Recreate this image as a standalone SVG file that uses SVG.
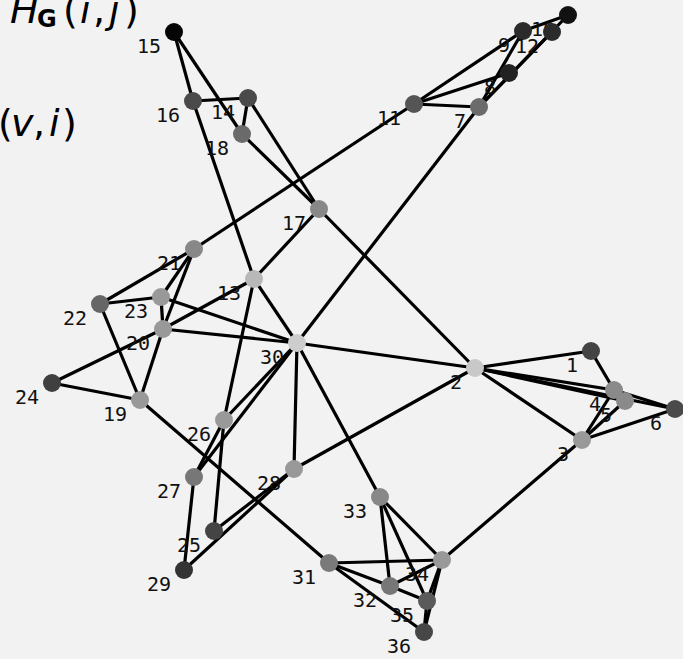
<svg xmlns="http://www.w3.org/2000/svg" width="683" height="659" viewBox="0 0 683 659">
<style>
.bg{fill:#f2f2f2}
.e line{stroke:#000;stroke-width:3.2;stroke-linecap:butt}
.n text{font-family:"DejaVu Sans Mono","Liberation Mono",monospace;font-size:20px;fill:#111;text-anchor:end}
.m{font-family:"DejaVu Sans","Liberation Sans",sans-serif;fill:#000}
.it{font-style:italic}
</style>
<rect class="bg" x="0" y="0" width="683" height="659"/>
<g id="legend" class="m">
<text y="23" font-size="38"><tspan x="10" class="it">H</tspan><tspan x="37" y="27" font-size="24" font-weight="bold">G</tspan><tspan x="63" y="23">(</tspan><tspan x="80" class="it">i</tspan><tspan x="93">,</tspan><tspan x="109" class="it">j</tspan><tspan x="124">)</tspan></text>
<text y="136" font-size="38"><tspan x="-2">(</tspan><tspan x="11" class="it">v</tspan><tspan x="33">,</tspan><tspan x="49" class="it">i</tspan><tspan x="62">)</tspan></text>
</g>
<g id="edges" class="e">
<line x1="174" y1="32" x2="193" y2="101"/>
<line x1="174" y1="32" x2="242" y2="134"/>
<line x1="193" y1="101" x2="248" y2="98"/>
<line x1="193" y1="101" x2="254" y2="279"/>
<line x1="248" y1="98" x2="242" y2="134"/>
<line x1="248" y1="98" x2="319" y2="209"/>
<line x1="242" y1="134" x2="319" y2="209"/>
<line x1="319" y1="209" x2="475" y2="368"/>
<line x1="319" y1="209" x2="254" y2="279"/>
<line x1="254" y1="279" x2="297" y2="343"/>
<line x1="254" y1="279" x2="224" y2="420"/>
<line x1="254" y1="279" x2="163" y2="329"/>
<line x1="163" y1="329" x2="52" y2="383"/>
<line x1="100" y1="304" x2="194" y2="249"/>
<line x1="194" y1="249" x2="414" y2="104"/>
<line x1="194" y1="249" x2="161" y2="297"/>
<line x1="194" y1="249" x2="163" y2="329"/>
<line x1="100" y1="304" x2="161" y2="297"/>
<line x1="100" y1="304" x2="140" y2="400"/>
<line x1="161" y1="297" x2="163" y2="329"/>
<line x1="161" y1="297" x2="297" y2="343"/>
<line x1="163" y1="329" x2="297" y2="343"/>
<line x1="163" y1="329" x2="140" y2="400"/>
<line x1="52" y1="383" x2="140" y2="400"/>
<line x1="140" y1="400" x2="329" y2="563"/>
<line x1="297" y1="343" x2="224" y2="420"/>
<line x1="297" y1="343" x2="194" y2="477"/>
<line x1="224" y1="420" x2="194" y2="477"/>
<line x1="224" y1="420" x2="214" y2="531"/>
<line x1="194" y1="477" x2="184" y2="570"/>
<line x1="214" y1="531" x2="294" y2="469"/>
<line x1="184" y1="570" x2="294" y2="469"/>
<line x1="294" y1="469" x2="297" y2="343"/>
<line x1="294" y1="469" x2="475" y2="368"/>
<line x1="297" y1="343" x2="380" y2="497"/>
<line x1="297" y1="343" x2="475" y2="368"/>
<line x1="297" y1="343" x2="479" y2="107"/>
<line x1="414" y1="104" x2="479" y2="107"/>
<line x1="414" y1="104" x2="523" y2="31"/>
<line x1="414" y1="104" x2="509" y2="73"/>
<line x1="479" y1="107" x2="523" y2="31"/>
<line x1="479" y1="107" x2="552" y2="32"/>
<line x1="479" y1="107" x2="568" y2="15"/>
<line x1="523" y1="31" x2="568" y2="15"/>
<line x1="475" y1="368" x2="591" y2="351"/>
<line x1="591" y1="351" x2="614" y2="390"/>
<line x1="475" y1="368" x2="614" y2="390"/>
<line x1="475" y1="368" x2="625" y2="401"/>
<line x1="475" y1="368" x2="675" y2="409"/>
<line x1="614" y1="390" x2="675" y2="409"/>
<line x1="475" y1="368" x2="582" y2="440"/>
<line x1="582" y1="440" x2="614" y2="390"/>
<line x1="582" y1="440" x2="625" y2="401"/>
<line x1="582" y1="440" x2="675" y2="409"/>
<line x1="582" y1="440" x2="442" y2="560"/>
<line x1="380" y1="497" x2="390" y2="586"/>
<line x1="380" y1="497" x2="427" y2="601"/>
<line x1="380" y1="497" x2="442" y2="560"/>
<line x1="329" y1="563" x2="442" y2="560"/>
<line x1="329" y1="563" x2="390" y2="586"/>
<line x1="329" y1="563" x2="424" y2="632"/>
<line x1="390" y1="586" x2="427" y2="601"/>
<line x1="390" y1="586" x2="442" y2="560"/>
<line x1="442" y1="560" x2="427" y2="601"/>
<line x1="442" y1="560" x2="424" y2="632"/>
<line x1="427" y1="601" x2="424" y2="632"/>
</g>
<g id="node-15" class="n"><text x="161" y="53">15</text><circle cx="174" cy="32" r="9" fill="#050505"/></g>
<g id="node-16" class="n"><text x="180" y="122">16</text><circle cx="193" cy="101" r="9" fill="#4a4a4a"/></g>
<g id="node-14" class="n"><text x="235" y="119">14</text><circle cx="248" cy="98" r="9" fill="#4a4a4a"/></g>
<g id="node-18" class="n"><text x="229" y="155">18</text><circle cx="242" cy="134" r="9" fill="#6a6a6a"/></g>
<g id="node-17" class="n"><text x="306" y="230">17</text><circle cx="319" cy="209" r="9" fill="#888"/></g>
<g id="node-21" class="n"><text x="181" y="270">21</text><circle cx="194" cy="249" r="9" fill="#888"/></g>
<g id="node-13" class="n"><text x="241" y="300">13</text><circle cx="254" cy="279" r="9" fill="#b8b8b8"/></g>
<g id="node-22" class="n"><text x="87" y="325">22</text><circle cx="100" cy="304" r="9" fill="#666"/></g>
<g id="node-23" class="n"><text x="148" y="318">23</text><circle cx="161" cy="297" r="9" fill="#999"/></g>
<g id="node-20" class="n"><text x="150" y="350">20</text><circle cx="163" cy="329" r="9" fill="#999"/></g>
<g id="node-30" class="n"><text x="284" y="364">30</text><circle cx="297" cy="343" r="9" fill="#cdcdcd"/></g>
<g id="node-24" class="n"><text x="39" y="404">24</text><circle cx="52" cy="383" r="9" fill="#404040"/></g>
<g id="node-19" class="n"><text x="127" y="421">19</text><circle cx="140" cy="400" r="9" fill="#999"/></g>
<g id="node-26" class="n"><text x="211" y="441">26</text><circle cx="224" cy="420" r="9" fill="#999"/></g>
<g id="node-27" class="n"><text x="181" y="498">27</text><circle cx="194" cy="477" r="9" fill="#777"/></g>
<g id="node-28" class="n"><text x="281" y="490">28</text><circle cx="294" cy="469" r="9" fill="#999"/></g>
<g id="node-25" class="n"><text x="201" y="552">25</text><circle cx="214" cy="531" r="9" fill="#444"/></g>
<g id="node-29" class="n"><text x="171" y="591">29</text><circle cx="184" cy="570" r="9" fill="#333"/></g>
<g id="node-33" class="n"><text x="367" y="518">33</text><circle cx="380" cy="497" r="9" fill="#888"/></g>
<g id="node-31" class="n"><text x="316" y="584">31</text><circle cx="329" cy="563" r="9" fill="#7a7a7a"/></g>
<g id="node-34" class="n"><text x="429" y="581">34</text><circle cx="442" cy="560" r="9" fill="#999"/></g>
<g id="node-32" class="n"><text x="377" y="607">32</text><circle cx="390" cy="586" r="9" fill="#777"/></g>
<g id="node-35" class="n"><text x="414" y="622">35</text><circle cx="427" cy="601" r="9" fill="#5a5a5a"/></g>
<g id="node-36" class="n"><text x="411" y="653">36</text><circle cx="424" cy="632" r="9" fill="#474747"/></g>
<g id="node-2" class="n"><text x="462" y="389">2</text><circle cx="475" cy="368" r="9" fill="#c8c8c8"/></g>
<g id="node-1" class="n"><text x="578" y="372">1</text><circle cx="591" cy="351" r="9" fill="#444"/></g>
<g id="node-3" class="n"><text x="569" y="461">3</text><circle cx="582" cy="440" r="9" fill="#999"/></g>
<g id="node-6" class="n"><text x="662" y="430">6</text><circle cx="675" cy="409" r="9" fill="#4a4a4a"/></g>
<g id="node-4" class="n"><text x="601" y="411">4</text><circle cx="614" cy="390" r="9" fill="#8a8a8a"/></g>
<g id="node-5" class="n"><text x="612" y="422">5</text><circle cx="625" cy="401" r="9" fill="#8a8a8a"/></g>
<g id="node-11" class="n"><text x="401" y="125">11</text><circle cx="414" cy="104" r="9" fill="#555"/></g>
<g id="node-8" class="n"><text x="496" y="94">8</text><circle cx="509" cy="73" r="9" fill="#222"/></g>
<g id="node-7" class="n"><text x="466" y="128">7</text><circle cx="479" cy="107" r="9" fill="#6b6b6b"/></g>
<g id="node-10" class="n"><text x="555" y="36">10</text><circle cx="568" cy="15" r="9" fill="#111"/></g>
<g id="node-9" class="n"><text x="510" y="52">9</text><circle cx="523" cy="31" r="9" fill="#2b2b2b"/></g>
<g id="node-12" class="n"><text x="539" y="53">12</text><circle cx="552" cy="32" r="9" fill="#2b2b2b"/></g>
</svg>
